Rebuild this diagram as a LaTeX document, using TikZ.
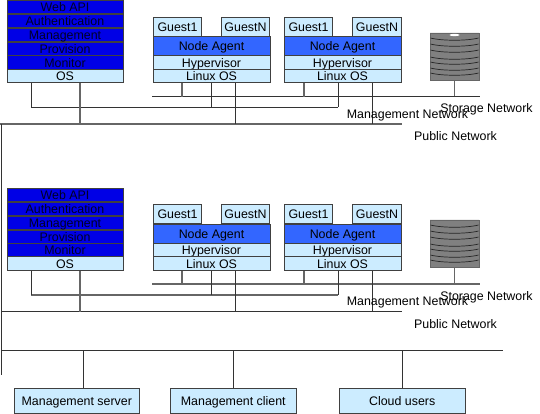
\documentclass[tikz,border=0pt]{standalone}
\usepackage{fontspec}
\setmainfont{Liberation Sans}
\usetikzlibrary{shapes.geometric,positioning,calc}
\definecolor{webblue}{RGB}{0,0,230}
\definecolor{agentblue}{RGB}{51,102,255}
\definecolor{paleblue}{RGB}{204,236,255}
\tikzset{
  layer/.style={draw=black!75, line width=0.8pt, inner sep=0pt, text height=9.5pt, text depth=0pt, font=\fontsize{12.4}{13}\selectfont},
  apibox/.style={layer, fill=webblue, text=black!85!blue, minimum width=116pt, minimum height=13.7pt},
  osbox/.style={layer, fill=paleblue, minimum width=116pt, minimum height=13.7pt},
  agentbox/.style={layer, fill=agentblue, minimum width=117pt, minimum height=19pt},
  hostbox/.style={layer, fill=paleblue, minimum width=117pt, minimum height=13.7pt},
  guestbox/.style={layer, fill=paleblue, minimum width=48.5pt, minimum height=19pt},
  userbox/.style={layer, fill=paleblue, minimum width=125.5pt, minimum height=25pt},
  wire/.style={black!80, line width=0.7pt},
  thickwire/.style={black!60, line width=1.2pt},
  netlabel/.style={inner sep=0pt, text height=9.5pt, text depth=0pt, font=\fontsize{12.4}{13}\selectfont},
  disk/.style={cylinder, shape border rotate=90, aspect=0.12, draw=black!60, fill=black!50, minimum width=49pt, minimum height=47pt, inner sep=0pt},
  diskband/.style={black!85, line width=0.7pt}
}
\begin{document}
\begin{tikzpicture}[x=1pt, y=-1pt]
    \useasboundingbox (0,0) rectangle (540,414);
    % Upper controller
    \node[apibox] (api1) at (65,7) {Web API};
    \node[apibox] (auth1) at (65,21) {Authentication};
    \node[apibox] (mgmt1) at (65,35) {Management};
    \node[apibox] (prov1) at (65,49) {Provision};
    \node[apibox] (mon1) at (65,62.5) {Monitor};
    \node[osbox] (os1) at (65,76) {OS};

    % Upper hosts
    \node[guestbox] (ga1) at (177.5,26.5) {Guest1};
    \node[guestbox] (gb1) at (245.5,26.5) {GuestN};
    \node[agentbox] (agenta1) at (211.5,46) {Node Agent};
    \node[hostbox] (hypa1) at (211.5,62.5) {Hypervisor};
    \node[hostbox] (lina1) at (211.5,76) {Linux OS};

    \node[guestbox] (gc1) at (308.5,26.5) {Guest1};
    \node[guestbox] (gd1) at (377,26.5) {GuestN};
    \node[agentbox] (agentb1) at (342.5,46) {Node Agent};
    \node[hostbox] (hypb1) at (342.5,62.5) {Hypervisor};
    \node[hostbox] (linb1) at (342.5,76) {Linux OS};

    % Lower controller
    \node[apibox] (api2) at (65,195) {Web API};
    \node[apibox] (auth2) at (65,209) {Authentication};
    \node[apibox] (mgmt2) at (65,223) {Management};
    \node[apibox] (prov2) at (65,237) {Provision};
    \node[apibox] (mon2) at (65,250) {Monitor};
    \node[osbox] (os2) at (65,263.5) {OS};

    % Lower hosts
    \node[guestbox] (ga2) at (177.5,214) {Guest1};
    \node[guestbox] (gb2) at (245.5,214) {GuestN};
    \node[agentbox] (agenta2) at (211.5,233.5) {Node Agent};
    \node[hostbox] (hypa2) at (211.5,250) {Hypervisor};
    \node[hostbox] (lina2) at (211.5,263.5) {Linux OS};

    \node[guestbox] (gc2) at (308.5,214) {Guest1};
    \node[guestbox] (gd2) at (377,214) {GuestN};
    \node[agentbox] (agentb2) at (342.5,233.5) {Node Agent};
    \node[hostbox] (hypb2) at (342.5,250) {Hypervisor};
    \node[hostbox] (linb2) at (342.5,263.5) {Linux OS};

    % Disks
    \node[disk] (disk1) at (454.5,56.5) {};
    \node[disk] (disk2) at (454.5,243.5) {};
    \foreach \y in {38,44,50,57,62,68,73} {
        \draw[diskband] (430.5,\y) .. controls (442,\y+3) and (467,\y+3) .. (478.5,\y);
        \draw[diskband] (430.5,\y+187) .. controls (442,\y+190) and (467,\y+190) .. (478.5,\y+187);
    }
    \fill[white] (454.5,35) ellipse (5pt and 1.2pt);

    % Users
    \node[userbox] (server) at (76.8,400.5) {Management server};
    \node[userbox] (client) at (233.3,400.5) {Management client};
    \node[userbox] (cloud) at (402.2,400.5) {Cloud users};

    % Networks
    \coordinate (stoa1) at (152,96.5);
    \coordinate (stob1) at (480,96.5);
    \coordinate (mana1) at (31,107.5);
    \coordinate (manb1) at (338,107.5);
    \coordinate (puba1) at (0,124);
    \coordinate (pubb1) at (402,124);
    \coordinate (stoa2) at (152,284);
    \coordinate (stob2) at (480,284);
    \coordinate (mana2) at (31,295);
    \coordinate (manb2) at (338,295);
    \coordinate (puba2) at (1,311.5);
    \coordinate (pubb2) at (402,311.5);
    \coordinate (busa) at (2,350.5);
    \coordinate (busb) at (502.7,350.5);
    \coordinate (edgea) at (1.5,124);
    \coordinate (edgeb) at (1.5,375);

    \draw[wire] (stoa1) -- (stob1);
    \draw[wire] (mana1) -- (manb1);
    \draw[thickwire] (puba1) -- (pubb1);
    \draw[thickwire] (stoa2) -- (stob2);
    \draw[thickwire] (mana2) -- (manb2);
    \draw[wire] (puba2) -- (pubb2);
    \draw[wire] (busa) -- (busb);
    \draw[wire] (edgea) -- (edgeb);

    \draw[wire] (os1.south -| mana1) -- (mana1);
    \draw[thickwire] (os1.south) ++(15,0) -- ++(0,41);
    \draw[thickwire] (lina1.south -| 182,0) -- ++(0,13.5);
    \draw[wire] (lina1.south) -- (lina1.south |- mana1);
    \draw[wire] (lina1.south -| 235.5,0) -- ++(0,41);
    \draw[thickwire] (linb1.south -| 304,0) -- ++(0,13.5);
    \draw[wire] (linb1.south -| manb1) -- (manb1);
    \draw[wire] (linb1.south -| 372.5,0) -- ++(0,41);
    \draw[thickwire] (disk1.south) -- (disk1.south |- stob1);

    \draw[wire] (os2.south -| mana2) -- (mana2);
    \draw[thickwire] (os2.south) ++(15,0) -- ++(0,41);
    \draw[thickwire] (lina2.south -| 182,0) -- ++(0,13.5);
    \draw[wire] (lina2.south) -- (lina2.south |- mana2);
    \draw[wire] (lina2.south -| 235.5,0) -- ++(0,41);
    \draw[thickwire] (linb2.south -| 304,0) -- ++(0,13.5);
    \draw[wire] (linb2.south -| manb2) -- (manb2);
    \draw[wire] (linb2.south -| 372.5,0) -- ++(0,41);
    \draw[thickwire] (disk2.south) -- (disk2.south |- stob2);

    \draw[wire] (server.north -| 83,0) -- (83,350.5);
    \draw[wire] (client.north -| 233.5,0) -- (233.5,350.5);
    \draw[wire] (cloud.north -| 402.5,0) -- (402.5,350.5);

    % Labels
    \node[netlabel] (manl1) at (407.5,113.5) {Management Network};
    \node[netlabel] (stol1) at (486.5,108) {Storage Network};
    \node[netlabel] (publ1) at (455.5,136) {Public Network};
    \node[netlabel] (manl2) at (407.5,301) {Management Network};
    \node[netlabel] (stol2) at (486.5,296) {Storage Network};
    \node[netlabel] (publ2) at (455.5,324) {Public Network};
\end{tikzpicture}
\end{document}
